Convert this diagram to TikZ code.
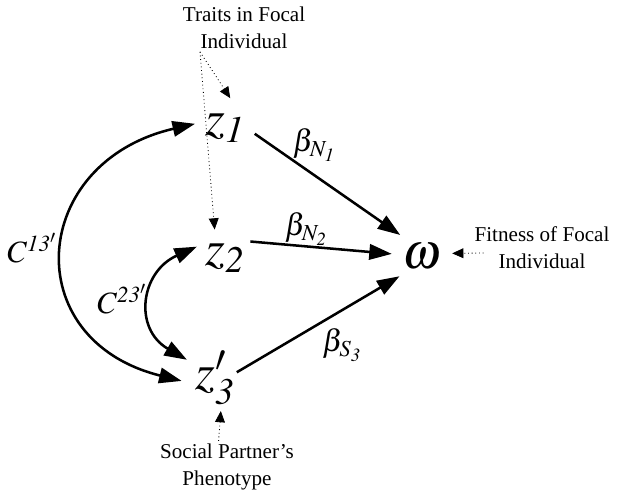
\documentclass[tikz,border=0pt]{standalone}
\usepackage{mathptmx}
\usepackage{fontspec}
\setmainfont{Liberation Serif}
\usetikzlibrary{arrows.meta,positioning}

\tikzset{
  var/.style={circle, minimum size=1.5cm, inner sep=0pt, font=\fontsize{36}{36}\selectfont},
  coef/.style={inner sep=0pt, font=\fontsize{22}{22}\selectfont},
  covlabel/.style={inner sep=0pt, font=\fontsize{22}{22}\selectfont},
  note/.style={align=center, inner sep=2pt, font=\fontsize{15}{19}\selectfont},
  effect/.style={line width=1.8pt, -{Triangle[length=16pt,width=11pt]}},
  cov/.style={line width=1.8pt, {Triangle[length=16pt,width=11pt]}-{Triangle[length=16pt,width=11pt]}},
  pointer/.style={dotted, line width=0.6pt, -{Triangle[length=8pt,width=7pt]}}
}

\begin{document}
\begin{tikzpicture}[x=0.025cm, y=0.025cm]
	\useasboundingbox (0,0) rectangle (622,495);
	
	% traits and fitness
	\node[var] (z1) at (225,367) {$z_{\mathit{1}}$};
	\node[var] (z2) at (225,237) {$z_{\mathit{2}}$};
	\node[var] (z3) at (215,117) {$z_{\mathit{3}}'$};
	\node[var] (w) at (422,239) {$\omega$};
	
	% notes
	\node[note] (traits) at (244,467) {Traits in Focal\\Individual};
	\node[note] (fit) at (542,247) {Fitness of Focal\\Individual};
	\node[note] (social) at (227,28) {Social Partner’s\\Phenotype};
	
	% coefficients
	\node[coef] (bN1) at (314,350) {$\beta_{N_{\mathit{1}}}$};
	\node[coef] (bN2) at (306,266) {$\beta_{N_{\mathit{2}}}$};
	\node[coef] (bS3) at (342,150) {$\beta_{S_{\mathit{3}}}$};
	\node[covlabel] (c13) at (32,247) {$C^{\mathit{13}'}$};
	\node[covlabel] (c23) at (122,196) {$C^{\mathit{23}'}$};
	
	% Draw edges
	\draw[effect] (z1.-11) -- (w.136);
	\draw[effect] (z2.33) -- (w.176);
	\draw[effect, shorten <=-8pt] (z3.20) -- (w.222);
	
	\draw[cov] (z3.185) .. controls +(166:170) and +(193:170) .. (z1.172);
	\draw[cov] (z3.147) .. controls +(150:62) and +(204:62) .. (z2.158);
	
	% dotted pointers
	\coordinate (tfoot) at ([shift={(-44,0)}]traits.south);
	\draw[pointer] (tfoot) -- (z1.80);
	\draw[pointer] (tfoot) -- (z2.110);
	\draw[pointer] ([shift={(12,-5)}]fit.west) -- (w.5);
	\draw[pointer] ([xshift=-6pt]social.north) -- (z3.-80);
\end{tikzpicture}
\end{document}
